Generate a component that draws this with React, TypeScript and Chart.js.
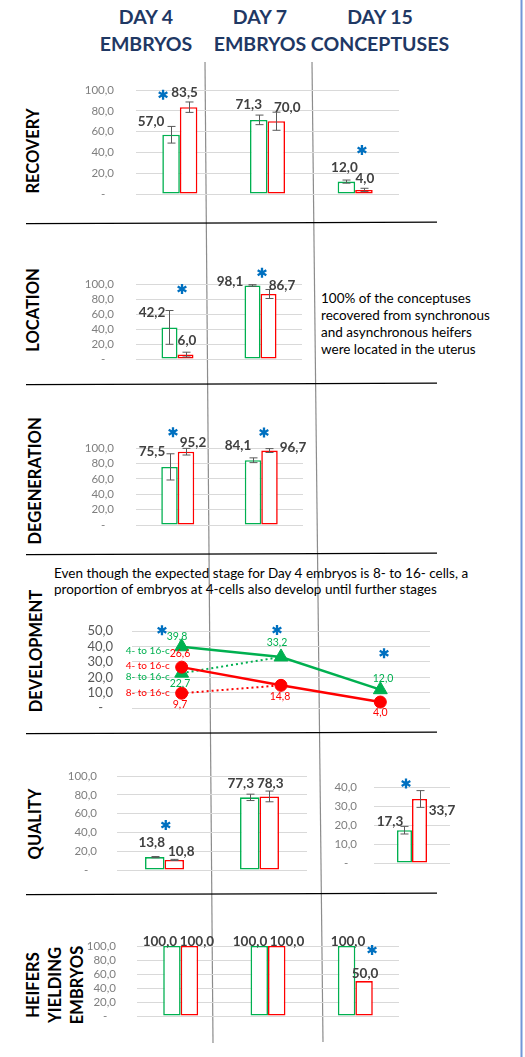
import React, { useEffect, useRef } from 'react';
import { Chart, registerables } from 'chart.js';
Chart.register(...registerables);

const GREEN = '#00B050';
const RED = '#FF0000';
const STAR = '#0070C0';
const LABEL = '#404040';
const FONT = 'Lato, "Open Sans", sans-serif';

// ---------- data ----------
const threeDays = ['Day 4 embryos', 'Day 7 embryos', 'Day 15 conceptuses'];
const twoDays = ['Day 4 embryos', 'Day 7 embryos'];
const day15 = ['Day 15 conceptuses'];

const recoverySync = [57.0, 71.3, 12.0];
const recoveryAsync = [83.5, 70.0, 4.0];
const recoverySyncErr = [8.0, 4.6, 1.5];
const recoveryAsyncErr = [5.0, 8.7, 1.6];

const locationSync = [42.2, 98.1];
const locationAsync = [6.0, 86.7];
const locationSyncErr = [22.5, 1.0];
const locationAsyncErr = [3.2, 6.0];

const degenerationSync = [75.5, 84.1];
const degenerationAsync = [95.2, 96.7];
const degenerationSyncErr = [17.0, 3.1];
const degenerationAsyncErr = [4.3, 2.5];

const devSync4to16 = [39.8, 33.2, 12.0];
const devAsync4to16 = [26.6, 14.8, 4.0];
const devSync8to16 = [22.7, 33.2, null];
const devAsync8to16 = [9.7, 14.8, null];

const qualitySync = [13.8, 77.3];
const qualityAsync = [10.8, 78.3];
const qualitySyncErr = [0.6, 3.4];
const qualityAsyncErr = [0.6, 5.7];
const quality15Sync = [17.3];
const quality15Async = [33.7];
const quality15SyncErr = [2.0];
const quality15AsyncErr = [4.4];

const heifersSync = [100.0, 100.0, 100.0];
const heifersAsync = [100.0, 100.0, 50.0];

const fmt = (v: number) => (v === 0 ? '-   ' : v.toFixed(1).replace('.', ','));

// ---------- layout constants ----------
const AXIS_W = 70;
const PAD_T = 48;
const PAD_B = 14;
const PAD_R = 75;

type Lbl = { ds: number; i: number; dx: number; dy: number; text?: string; color?: string; font?: string; align?: CanvasTextAlign };
type Star = { ds: number; i: number; dx: number; dy: number };

function drawStar(ctx: CanvasRenderingContext2D, x: number, y: number) {
  ctx.save();
  ctx.strokeStyle = STAR;
  ctx.lineWidth = 2.3;
  ctx.lineCap = 'butt';
  const r = 5;
  ctx.beginPath();
  for (let k = 0; k < 3; k++) {
    const a = Math.PI / 2 + (k * Math.PI) / 3;
    ctx.moveTo(x + r * Math.cos(a), y + r * Math.sin(a));
    ctx.lineTo(x - r * Math.cos(a), y - r * Math.sin(a));
  }
  ctx.stroke();
  ctx.restore();
}

function decoPlugin(errors: (number[] | null)[], labels: Lbl[], stars: Star[]) {
  return {
    id: 'deco',
    afterDatasetsDraw(chart: any) {
      const ctx: CanvasRenderingContext2D = chart.ctx;
      const ys = chart.scales.y;
      ctx.save();
      errors.forEach((errs, ds) => {
        if (!errs) return;
        const meta = chart.getDatasetMeta(ds);
        const vals = chart.data.datasets[ds].data;
        errs.forEach((e, i) => {
          const el = meta.data[i];
          const v = vals[i];
          if (!el || v == null) return;
          const x = Math.round(el.x) + 0.5;
          const yt = ys.getPixelForValue(v + e);
          const yb = ys.getPixelForValue(v - e);
          ctx.strokeStyle = '#595959';
          ctx.lineWidth = 1;
          ctx.beginPath();
          ctx.moveTo(x, yt);
          ctx.lineTo(x, yb);
          ctx.moveTo(x - 4, yt);
          ctx.lineTo(x + 4, yt);
          ctx.moveTo(x - 4, yb);
          ctx.lineTo(x + 4, yb);
          ctx.stroke();
        });
      });
      labels.forEach((l) => {
        const el = chart.getDatasetMeta(l.ds).data[l.i];
        const v = chart.data.datasets[l.ds].data[l.i];
        if (!el) return;
        ctx.font = l.font || `bold 13.5px ${FONT}`;
        ctx.fillStyle = l.color || LABEL;
        ctx.textAlign = l.align || 'center';
        ctx.textBaseline = 'middle';
        ctx.fillText(l.text ?? fmt(v), el.x + l.dx, el.y + l.dy);
      });
      stars.forEach((s) => {
        const el = chart.getDatasetMeta(s.ds).data[s.i];
        if (!el) return;
        drawStar(ctx, el.x + s.dx, el.y + s.dy);
      });
      ctx.restore();
    },
  };
}

type Panel = {
  plotLeft: number;
  plotRight: number;
  yTop: number;
  yZero: number;
  max: number;
  step: number;
  tickPad: number;
  tickFont?: any;
  tickColor?: string;
};

function box(p: Panel) {
  const left = p.plotLeft - AXIS_W;
  const top = p.yTop - PAD_T;
  return { left, top, width: p.plotRight - left + PAD_R, height: p.yZero - top + PAD_B };
}

function yScale(p: Panel) {
  return {
    min: 0,
    max: p.max,
    ticks: {
      stepSize: p.step,
      autoSkip: false,
      padding: p.tickPad,
      color: p.tickColor || '#7F7F7F',
      font: p.tickFont || { family: FONT, size: 11.5 },
      callback: (v: any) => fmt(Number(v)),
    },
    grid: { color: '#D9D9D9', drawTicks: false, lineWidth: 1 },
    border: { display: false },
    afterFit: (s: any) => {
      s.width = AXIS_W;
    },
  };
}

function barConfig(
  p: Panel,
  categories: string[],
  sync: number[],
  async_: number[],
  catPct: number,
  errors: (number[] | null)[],
  labels: Lbl[],
  stars: Star[]
) {
  const ds = (label: string, data: number[], color: string) => ({
    label,
    data,
    backgroundColor: '#FFFFFF',
    borderColor: color,
    borderWidth: 1.6,
    borderSkipped: false,
    categoryPercentage: catPct,
    barPercentage: 1,
  });
  return {
    type: 'bar',
    data: {
      labels: categories,
      datasets: [ds('Synchronous', sync, GREEN), ds('Asynchronous', async_, RED)],
    },
    options: {
      responsive: false,
      animation: false,
      devicePixelRatio: 1,
      layout: { padding: { top: PAD_T, bottom: PAD_B, left: 0, right: PAD_R } },
      plugins: { legend: { display: false }, tooltip: { enabled: false } },
      scales: { x: { display: false, offset: true }, y: yScale(p) },
    },
    plugins: [decoPlugin(errors, labels, stars)],
  };
}

function ChartBox({ p, make }: { p: Panel; make: () => any }) {
  const ref = useRef<HTMLCanvasElement>(null);
  const b = box(p);
  useEffect(() => {
    const chart = new Chart(ref.current as HTMLCanvasElement, make());
    let alive = true;
    if ((document as any).fonts) {
      (document as any).fonts.load(`bold 13px Lato`).then(() => {
        if (alive) chart.update();
      });
    }
    return () => {
      alive = false;
      chart.destroy();
    };
  }, []);
  return (
    <div style={{ position: 'absolute', left: b.left, top: b.top, width: b.width, height: b.height }}>
      <canvas ref={ref} width={b.width} height={b.height} style={{ width: b.width, height: b.height, display: 'block' }} />
    </div>
  );
}

// ---------- panels ----------
const pRecovery: Panel = { plotLeft: 136, plotRight: 399, yTop: 90, yZero: 209, max: 100, step: 20, tickPad: 22 };
const pLocation: Panel = { plotLeft: 136, plotRight: 302, yTop: 284, yZero: 374, max: 100, step: 20, tickPad: 22 };
const pDegeneration: Panel = { plotLeft: 136, plotRight: 303, yTop: 448, yZero: 540, max: 100, step: 20, tickPad: 22 };
const pDevelopment: Panel = {
  plotLeft: 132, plotRight: 430, yTop: 631, yZero: 721, max: 50, step: 10, tickPad: 19,
  tickFont: { family: FONT, size: 13 }, tickColor: '#595959',
};
const pQuality: Panel = { plotLeft: 117, plotRight: 307, yTop: 776, yZero: 883, max: 100, step: 20, tickPad: 20 };
const pQuality15: Panel = { plotLeft: 374, plotRight: 450, yTop: 787, yZero: 873, max: 40, step: 10, tickPad: 17 };
const pHeifers: Panel = { plotLeft: 137, plotRight: 399, yTop: 946, yZero: 1030, max: 100, step: 20, tickPad: 21 };

const makeRecovery = () =>
  barConfig(pRecovery, threeDays, recoverySync, recoveryAsync, 0.4, [recoverySyncErr, recoveryAsyncErr],
    [
      { ds: 0, i: 0, dx: -20, dy: -13 },
      { ds: 1, i: 0, dx: -4, dy: -15 },
      { ds: 0, i: 1, dx: -10, dy: -15 },
      { ds: 1, i: 1, dx: 11, dy: -14 },
      { ds: 0, i: 2, dx: -2, dy: -14 },
      { ds: 1, i: 2, dx: 1, dy: -11 },
    ],
    [
      { ds: 0, i: 0, dx: -8, dy: -40 },
      { ds: 1, i: 2, dx: -2, dy: -40 },
    ]);

const makeLocation = () =>
  barConfig(pLocation, twoDays, locationSync, locationAsync, 0.386, [locationSyncErr, locationAsyncErr],
    [
      { ds: 0, i: 0, dx: -17.5, dy: -15 },
      { ds: 1, i: 0, dx: 1.5, dy: -13.6 },
      { ds: 0, i: 1, dx: -22.5, dy: -4 },
      { ds: 1, i: 1, dx: 13.5, dy: -8 },
    ],
    [
      { ds: 1, i: 0, dx: -3.5, dy: -65.6 },
      { ds: 0, i: 1, dx: 9.5, dy: -12.7 },
    ]);

const makeDegeneration = () =>
  barConfig(pDegeneration, twoDays, degenerationSync, degenerationAsync, 0.395, [degenerationSyncErr, degenerationAsyncErr],
    [
      { ds: 0, i: 0, dx: -17.5, dy: -15.5 },
      { ds: 1, i: 0, dx: 7, dy: -9.5 },
      { ds: 0, i: 1, dx: -15, dy: -14.6 },
      { ds: 1, i: 1, dx: 23.5, dy: -3 },
    ],
    [
      { ds: 1, i: 0, dx: -13, dy: -19.4 },
      { ds: 1, i: 1, dx: -5.5, dy: -18 },
    ]);

const makeQuality = () =>
  barConfig(pQuality, twoDays, qualitySync, qualityAsync, 0.41, [qualitySyncErr, qualityAsyncErr],
    [
      { ds: 0, i: 0, dx: -3, dy: -14 },
      { ds: 1, i: 0, dx: 7, dy: -8.5 },
      { ds: 0, i: 1, dx: -9, dy: -14 },
      { ds: 1, i: 1, dx: 1, dy: -13 },
    ],
    [{ ds: 0, i: 0, dx: 11, dy: -32 }]);

const makeQuality15 = () =>
  barConfig(pQuality15, day15, quality15Sync, quality15Async, 0.395, [quality15SyncErr, quality15AsyncErr],
    [
      { ds: 0, i: 0, dx: -14.5, dy: -9 },
      { ds: 1, i: 0, dx: 22.5, dy: 11.5 },
    ],
    [{ ds: 1, i: 0, dx: -13.5, dy: -15.5 }]);

const makeHeifers = () =>
  barConfig(pHeifers, threeDays, heifersSync, heifersAsync, 0.4, [],
    [
      { ds: 0, i: 0, dx: -12, dy: -4.3 },
      { ds: 1, i: 0, dx: 7.5, dy: -4.3 },
      { ds: 0, i: 1, dx: -9.3, dy: -4.3 },
      { ds: 1, i: 1, dx: 10.3, dy: -4.3 },
      { ds: 0, i: 2, dx: 1.5, dy: -4.3 },
      { ds: 1, i: 2, dx: 1, dy: -7 },
    ],
    [{ ds: 1, i: 2, dx: 8, dy: -31 }]);

const makeDevelopment = () => {
  const ptFont = `10.5px ${FONT}`;
  const nameFont = `10px ${FONT}`;
  const lbl = (ds: number, i: number, dx: number, dy: number, color: string): Lbl => ({ ds, i, dx, dy, color, font: ptFont });
  return {
    type: 'line',
    data: {
      labels: threeDays,
      datasets: [
        {
          label: 'Synchronous 4- to 16-c', data: devSync4to16, borderColor: GREEN, backgroundColor: GREEN,
          borderWidth: 2.5, pointStyle: 'triangle', pointRadius: 8, pointBackgroundColor: GREEN, pointBorderColor: GREEN,
          pointBorderWidth: 1, clip: false, tension: 0,
        },
        {
          label: 'Asynchronous 4- to 16-c', data: devAsync4to16, borderColor: RED, backgroundColor: RED,
          borderWidth: 2.5, pointStyle: 'circle', pointRadius: 6, pointBackgroundColor: RED, pointBorderColor: RED,
          pointBorderWidth: 1, clip: false, tension: 0,
        },
        {
          label: 'Synchronous 8- to 16-c', data: devSync8to16, borderColor: GREEN, backgroundColor: GREEN,
          borderWidth: 2, borderDash: [2, 3], pointStyle: 'triangle', pointRadius: [8, 0, 0],
          pointBackgroundColor: GREEN, pointBorderColor: GREEN, pointBorderWidth: 1, clip: false, spanGaps: false,
        },
        {
          label: 'Asynchronous 8- to 16-c', data: devAsync8to16, borderColor: RED, backgroundColor: RED,
          borderWidth: 2, borderDash: [2, 3], pointStyle: 'circle', pointRadius: [6, 0, 0],
          pointBackgroundColor: RED, pointBorderColor: RED, pointBorderWidth: 1, clip: false, spanGaps: false,
        },
      ],
    },
    options: {
      responsive: false,
      animation: false,
      devicePixelRatio: 1,
      layout: { padding: { top: PAD_T, bottom: PAD_B, left: 0, right: PAD_R } },
      plugins: { legend: { display: false }, tooltip: { enabled: false } },
      scales: { x: { display: false, offset: true }, y: yScale(pDevelopment) },
    },
    plugins: [
      decoPlugin(
        [],
        [
          lbl(0, 0, -4.7, -10.4, GREEN),
          lbl(0, 1, -4, -14, GREEN),
          lbl(0, 2, 2.7, -11.4, GREEN),
          lbl(2, 0, -1.7, 10, GREEN),
          lbl(1, 0, -1.7, -14, RED),
          lbl(1, 1, -1, 11.6, RED),
          lbl(1, 2, 0, 11, RED),
          lbl(3, 0, -1.7, 11.5, RED),
          { ds: 0, i: 0, dx: -12, dy: 3.6, text: '4- to 16-c', color: GREEN, font: nameFont, align: 'right' },
          { ds: 1, i: 0, dx: -12, dy: -1, text: '4- to 16-c', color: RED, font: nameFont, align: 'right' },
          { ds: 2, i: 0, dx: -12, dy: 4, text: '8- to 16-c', color: GREEN, font: nameFont, align: 'right' },
          { ds: 3, i: 0, dx: -12, dy: 0, text: '8- to 16-c', color: RED, font: nameFont, align: 'right' },
        ],
        [
          { ds: 0, i: 0, dx: -19.7, dy: -16.4 },
          { ds: 0, i: 1, dx: -4, dy: -27 },
          { ds: 0, i: 2, dx: 3.7, dy: -36.4 },
        ]
      ),
    ],
  };
};

// ---------- text helpers ----------
function Center({ x, y, children, style }: any) {
  return (
    <div style={{ position: 'absolute', left: x, top: y, transform: 'translate(-50%,-50%)', whiteSpace: 'nowrap', ...style }}>
      {children}
    </div>
  );
}

function RowLabel({ x, y, children, lh }: any) {
  return (
    <div
      style={{
        position: 'absolute', left: x, top: y, transform: 'translate(-50%,-50%) rotate(-90deg)',
        whiteSpace: 'nowrap', fontWeight: 'bold', fontSize: 16.5, color: '#000', textAlign: 'center',
        lineHeight: lh ? `${lh}px` : 'normal',
      }}
    >
      {children}
    </div>
  );
}

const headerStyle = { fontWeight: 'bold', fontSize: 19.5, color: '#1F3864', lineHeight: '27px', textAlign: 'center' } as any;

export default function App() {
  return (
    <div style={{ position: 'absolute', left: 0, top: 0, width: 525, height: 1057, background: '#FFFFFF', fontFamily: FONT, overflow: 'hidden' }}>
      <svg width={525} height={1057} style={{ position: 'absolute', left: 0, top: 0 }}>
        <line x1={205} y1={62} x2={213} y2={1043} stroke="#8C8C8C" strokeWidth={1.2} />
        <line x1={312} y1={62} x2={323} y2={1042} stroke="#8C8C8C" strokeWidth={1.2} />
        {[223, 384, 554, 733, 894].map((y) => (
          <line key={y} x1={26} y1={y + 0.6} x2={437} y2={y - 0.8} stroke="#000" strokeWidth={1.3} />
        ))}
        <line x1={521.5} y1={0} x2={521.5} y2={1057} stroke="#7096D8" strokeWidth={2} />
      </svg>

      <Center x={146} y={30} style={headerStyle}>DAY 4<br />EMBRYOS</Center>
      <Center x={260} y={30} style={headerStyle}>DAY 7<br />EMBRYOS</Center>
      <Center x={380} y={30} style={headerStyle}>DAY 15<br />CONCEPTUSES</Center>

      <RowLabel x={33} y={151}>RECOVERY</RowLabel>
      <RowLabel x={33} y={310}>LOCATION</RowLabel>
      <RowLabel x={35} y={481}>DEGENERATION</RowLabel>
      <RowLabel x={36} y={651}>DEVELOPMENT</RowLabel>
      <RowLabel x={35} y={824}>QUALITY</RowLabel>
      <RowLabel x={55} y={985} lh={22}>HEIFERS<br />YIELDING<br />EMBRYOS</RowLabel>

      <div style={{ position: 'absolute', left: 321, top: 290, fontSize: 13.5, lineHeight: '17px', color: '#000', whiteSpace: 'nowrap' }}>
        100% of the conceptuses<br />recovered from synchronous<br />and asynchronous heifers<br />were located in the uterus
      </div>
      <div style={{ position: 'absolute', left: 54, top: 565, fontSize: 13.5, lineHeight: '16px', color: '#000', whiteSpace: 'nowrap' }}>
        Even though the expected stage for Day 4 embryos is 8- to 16- cells, a<br />proportion of embryos at 4-cells also develop until further stages
      </div>

      <ChartBox p={pRecovery} make={makeRecovery} />
      <ChartBox p={pLocation} make={makeLocation} />
      <ChartBox p={pDegeneration} make={makeDegeneration} />
      <ChartBox p={pDevelopment} make={makeDevelopment} />
      <ChartBox p={pQuality} make={makeQuality} />
      <ChartBox p={pQuality15} make={makeQuality15} />
      <ChartBox p={pHeifers} make={makeHeifers} />
    </div>
  );
}
